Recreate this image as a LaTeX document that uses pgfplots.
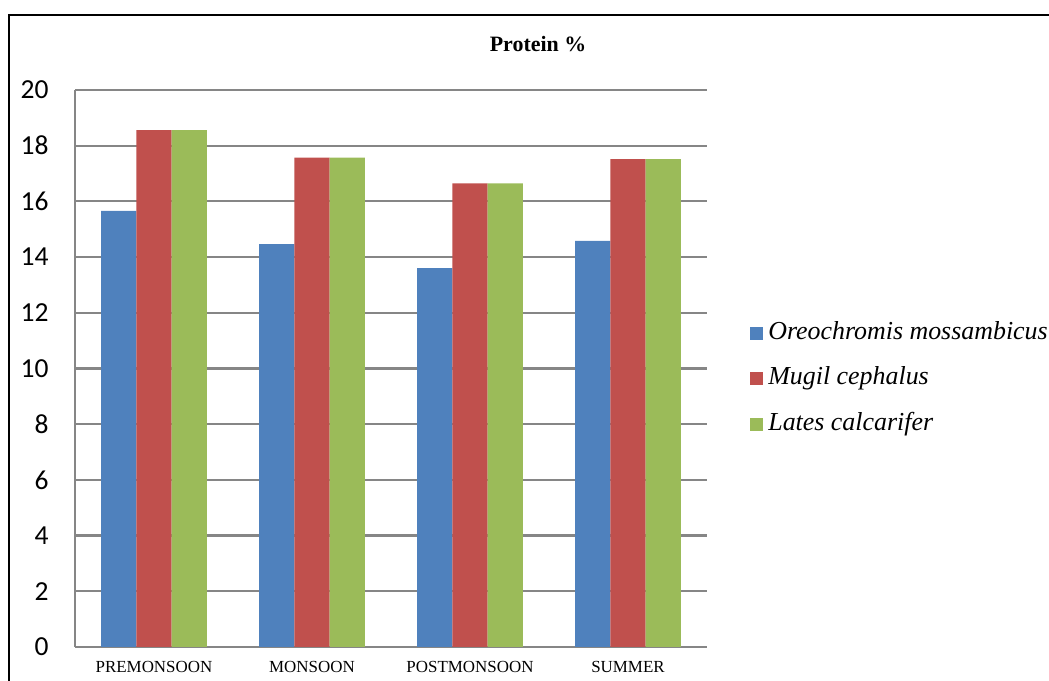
\documentclass[border=0pt]{standalone}
\usepackage{fontspec}
\setmainfont{Liberation Serif}
\newfontfamily\carlito{Carlito}
\usepackage{pgfplots}
\pgfplotsset{compat=1.18}

\definecolor{omblue}{RGB}{79,129,189}
\definecolor{mcred}{RGB}{192,80,77}
\definecolor{lcgreen}{RGB}{155,187,89}
\definecolor{gridgray}{RGB}{134,134,134}

\begin{document}
\begin{tikzpicture}
% outer frame (left and top edges)
\draw[line width=1bp] (4.5bp,0bp) -- (4.5bp,332.75bp) -- (524.5bp,332.75bp);
% chart title
\node[font=\bfseries\fontsize{11}{13}\selectfont] at (269bp,318.5bp) {Protein \%};

\begin{axis}[
  at={(37.5bp,17bp)}, anchor=south west,
  scale only axis,
  width=316bp, height=278.5bp,
  xmin=-0.5, xmax=3.5,
  ymin=0, ymax=20,
  ytick={0,2,...,20},
  xtick={0,1,2,3},
  xticklabels={PREMONSOON,MONSOON,POSTMONSOON,SUMMER},
  axis lines*=left,
  axis line style={-, draw=gridgray, line width=1.1bp},
  ymajorgrids,
  grid style={draw=gridgray, line width=1.1bp},
  major tick length=0pt,
  /pgf/number format/assume math mode=true,
  yticklabel style={font=\carlito\fontsize{13.8}{15}\selectfont, inner sep=0pt, anchor=east, xshift=-13bp},
  xticklabel style={font=\fontsize{8.5}{10}\selectfont, inner sep=0pt, anchor=north, yshift=-7bp},
  ybar=0pt,
  bar width=0.2234,
  legend cell align=left,
  % square swatch followed by a small gap before the entry text
  legend image code/.code={\fill[#1,draw=none] (0bp,-3.25bp) rectangle (6.5bp,3.25bp); \path (9bp,0bp);},
  legend style={
    at={(1.068,0.482)}, anchor=west,
    draw=none, fill=none, inner sep=0pt,
    font=\itshape\fontsize{13}{15}\selectfont,
    nodes={inner sep=0pt, text height=9bp, text depth=3bp},
    row sep=10.75bp,
  },
]
\addplot[fill=omblue, draw=none, bar shift=-0.2234] coordinates {(0,15.66) (1,14.47) (2,13.60) (3,14.58)};
\addplot[fill=mcred, draw=none, bar shift=0] coordinates {(0,18.56) (1,17.57) (2,16.65) (3,17.52)};
\addplot[fill=lcgreen, draw=none, bar shift=0.2234] coordinates {(0,18.56) (1,17.57) (2,16.65) (3,17.52)};
\legend{Oreochromis mossambicus, Mugil cephalus, Lates calcarifer}
\end{axis}

\pgfresetboundingbox
\useasboundingbox (0bp,0bp) rectangle (524.5bp,340.5bp);
\end{tikzpicture}
\end{document}
